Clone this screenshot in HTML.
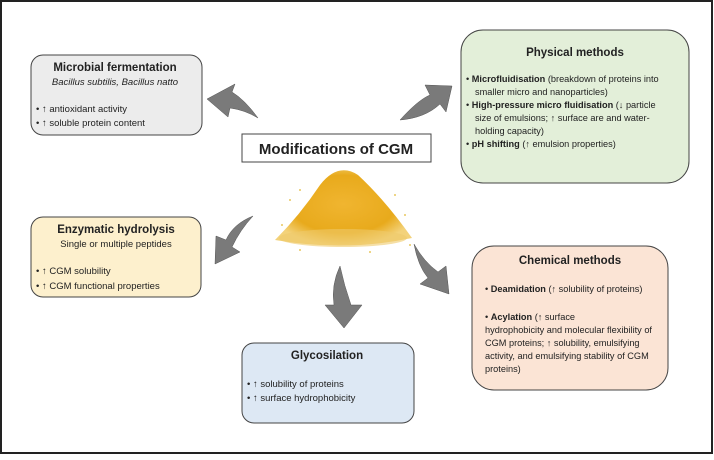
<!DOCTYPE html>
<html><head><style>
body{margin:0;width:714px;height:455px;overflow:hidden;background:#fff;font-family:"Liberation Sans",sans-serif;}
svg text{font-family:"Liberation Sans",sans-serif;fill:#222}
</style></head><body>
<svg width="714" height="455" viewBox="0 0 714 455" xmlns="http://www.w3.org/2000/svg">
<defs>
<radialGradient id="g" cx="50%" cy="45%" r="55%">
<stop offset="0" stop-color="#f0b530"/><stop offset="0.7" stop-color="#e8aa1c"/><stop offset="1" stop-color="#f3d27a"/>
</radialGradient>
</defs>
<rect x="1" y="1" width="711" height="452" fill="#fff" stroke="#222" stroke-width="2"/>
<!-- grain -->
<path d="M275 240 Q300 215 320 185 Q338 162 358 175 Q385 200 412 238 Q345 252 275 240Z" fill="url(#g)"/>
<ellipse cx="343" cy="238" rx="64" ry="9" fill="#eeca6a" opacity="0.6"/>
<g fill="#e9c860">
<circle cx="290" cy="200" r="1"/><circle cx="300" cy="190" r="1"/><circle cx="395" cy="195" r="1"/><circle cx="405" cy="215" r="1"/><circle cx="282" cy="225" r="1"/><circle cx="410" cy="245" r="1"/><circle cx="300" cy="250" r="1"/><circle cx="370" cy="252" r="1"/>
</g>
<!-- boxes -->
<rect x="31" y="55" width="171" height="80" rx="12" fill="#ececec" stroke="#444"/>
<rect x="461" y="30" width="228" height="153" rx="22" fill="#e3efd9" stroke="#444"/>
<rect x="242" y="134" width="189" height="28" fill="#fff" stroke="#444"/>
<rect x="31" y="217" width="170" height="80" rx="12" fill="#fdf0cd" stroke="#444"/>
<rect x="472" y="246" width="196" height="144" rx="22" fill="#fbe4d5" stroke="#444"/>
<rect x="242" y="343" width="172" height="80" rx="12" fill="#dde8f4" stroke="#444"/>
<!-- arrows -->
<g fill="#7a7a7a" stroke="#555" stroke-width="0.5">
<path d="M258 118 Q245 100 232 92 L235 84 L207 99 L228 117 L230 108 Q245 110 258 118Z"/>
<path d="M400 120 Q418 100 430 95 L425 85 L452 86 L446 112 L440 104 Q425 118 400 120Z"/>
<path d="M253 216 Q233 224 226 240 L216 236 L215 264 L240 252 L232 247 Q240 230 253 216Z"/>
<path d="M340 266 Q331 285 334 305 L325 305 L344 328 L362 305 L351 305 Q344 285 340 266Z"/>
<path d="M414 244 Q418 266 428 278 L420 284 L449 294 L446 266 L438 272 Q424 262 414 244Z"/>
</g>
<!-- text -->
<text x="336" y="154" font-size="15" font-weight="bold" text-anchor="middle">Modifications of CGM</text>
<text x="115" y="71" font-size="11.5" font-weight="bold" text-anchor="middle">Microbial fermentation</text>
<text x="115" y="85" font-size="9.5" font-style="italic" text-anchor="middle" fill="#444">Bacillus subtilis, Bacillus natto</text>
<text x="36" y="112" font-size="9.5" fill="#333">•  ↑ antioxidant activity</text>
<text x="36" y="126" font-size="9.5" fill="#333">•  ↑ soluble protein content</text>
<text x="575" y="56" font-size="11.5" font-weight="bold" text-anchor="middle">Physical methods</text>
<g font-size="9.2" fill="#333">
<text x="466" y="82">•  <tspan font-weight="bold" fill="#222">Microfluidisation</tspan> (breakdown of proteins into</text>
<text x="475" y="95">smaller micro and nanoparticles)</text>
<text x="466" y="108">•  <tspan font-weight="bold" fill="#222">High-pressure micro fluidisation</tspan> (↓ particle</text>
<text x="475" y="121">size of emulsions; ↑ surface are and water-</text>
<text x="475" y="134">holding capacity)</text>
<text x="466" y="147">•  <tspan font-weight="bold" fill="#222">pH shifting</tspan> (↑ emulsion properties)</text>
</g>
<text x="116" y="233" font-size="11.5" font-weight="bold" text-anchor="middle">Enzymatic hydrolysis</text>
<text x="116" y="247" font-size="9.5" text-anchor="middle" fill="#444">Single or multiple peptides</text>
<text x="36" y="274" font-size="9.5" fill="#333">•  ↑ CGM solubility</text>
<text x="36" y="289" font-size="9.5" fill="#333">•  ↑ CGM functional properties</text>
<text x="570" y="264" font-size="11.5" font-weight="bold" text-anchor="middle">Chemical methods</text>
<g font-size="9.2" fill="#333">
<text x="485" y="292">•  <tspan font-weight="bold" fill="#222">Deamidation</tspan> (↑ solubility of proteins)</text>
<text x="485" y="320">•  <tspan font-weight="bold" fill="#222">Acylation</tspan> (↑ surface</text>
<text x="485" y="333">hydrophobicity and molecular flexibility of</text>
<text x="485" y="346">CGM proteins; ↑ solubility, emulsifying</text>
<text x="485" y="359">activity, and emulsifying stability of CGM</text>
<text x="485" y="372">proteins)</text>
</g>
<text x="327" y="359" font-size="11.5" font-weight="bold" text-anchor="middle">Glycosilation</text>
<text x="247" y="387" font-size="9.5" fill="#333">•  ↑ solubility of proteins</text>
<text x="247" y="401" font-size="9.5" fill="#333">•  ↑ surface hydrophobicity</text>
</svg>
</body></html>
